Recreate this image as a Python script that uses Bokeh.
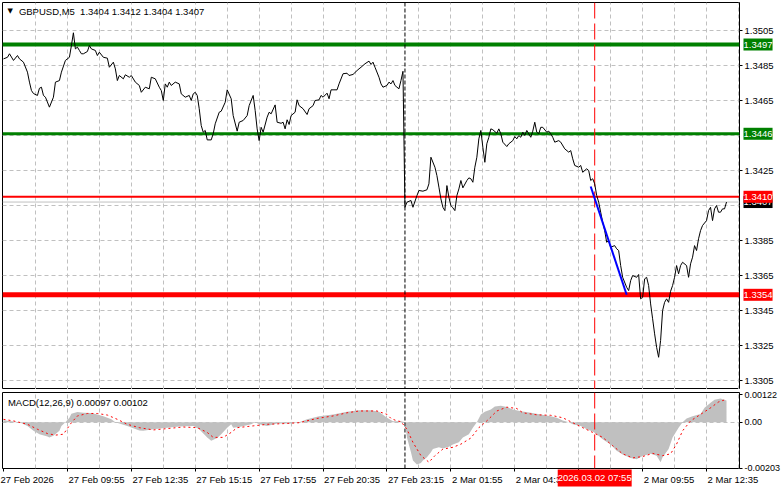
from bokeh.plotting import figure
from bokeh.models import (Range1d, FixedTicker, Label, Span, Grid, PrintfTickFormatter,
                          CustomJSTickFormatter)
from bokeh.layouts import column
from bokeh.embed import file_html
from bokeh.resources import INLINE

# ---------------- data ----------------
# M5 bar index (0 = 27 Feb 07:15) and close price
bar_idx = [0, 2, 3, 5, 7, 8, 10, 12, 13, 14, 15, 17, 18, 19, 20, 21, 23, 25, 26, 28, 29, 31, 33, 34, 35,
           36, 37, 38, 39, 40, 42, 43, 44, 46, 47, 48, 50, 52, 53, 55, 56, 57, 58, 60, 61, 63, 64, 66,
           68, 69, 71, 73, 74, 76, 78, 79, 80, 81, 82, 83, 84, 86, 88, 89, 91, 93, 94, 95, 96, 97, 98,
           99, 100, 101, 102, 104, 105, 106, 108, 109, 111, 112, 114, 115, 117, 118, 120, 122, 123, 125,
           126, 127, 128, 129, 130, 132, 133, 134, 136, 137, 139, 140, 141, 142, 143, 144, 146, 147, 148,
           150, 152, 153, 155, 156, 158, 159, 160, 162, 163, 164, 165, 167, 168, 170, 172, 173, 175, 177,
           178, 179, 181, 183, 184, 185, 186, 188, 189, 190, 192, 193, 194, 195, 196, 197, 198, 199, 200,
           201, 202, 204, 205, 207, 208, 210, 212, 213, 214, 216, 217, 218, 219, 220, 221, 222, 223, 224,
           225, 226, 227, 228, 229, 230, 232, 233, 234, 235, 236, 237, 238, 239, 240, 241, 242, 243, 244,
           245, 247, 248, 249, 250, 252, 253, 255, 256, 257, 258, 259, 260, 261, 262, 264, 265, 266, 267,
           268, 269, 270, 272, 273, 274, 275, 276, 278, 279, 281, 283, 284, 285, 286, 288, 289, 290, 292,
           293, 294, 295, 296, 297, 298, 299, 300, 301, 302, 303, 304, 306, 307, 308, 309, 310, 312, 313,
           314, 315, 317, 318, 319, 320, 321, 322, 323, 324, 325, 326, 327, 328, 329, 330, 331, 332, 333,
           334, 335, 336, 337, 338, 339, 340, 342, 343, 344, 345, 346, 347, 348, 349, 350, 352, 353, 354,
           355, 356, 357, 358, 359, 360, 361, 362]
close = [1.34888, 1.34897, 1.34917, 1.34879, 1.34907, 1.34888, 1.34869, 1.34812, 1.34755, 1.34707,
         1.34690, 1.34679, 1.34720, 1.34726, 1.34679, 1.34669, 1.34612, 1.34669, 1.34755, 1.34764,
         1.34812, 1.34879, 1.34897, 1.34964, 1.35037, 1.34945, 1.34955, 1.34936, 1.34917, 1.34917,
         1.34930, 1.34964, 1.34945, 1.34936, 1.34907, 1.34926, 1.34897, 1.34892, 1.34840, 1.34869,
         1.34831, 1.34764, 1.34793, 1.34774, 1.34797, 1.34783, 1.34793, 1.34755, 1.34736, 1.34697,
         1.34726, 1.34717, 1.34783, 1.34774, 1.34726, 1.34707, 1.34650, 1.34745, 1.34726, 1.34755,
         1.34736, 1.34755, 1.34745, 1.34688, 1.34669, 1.34679, 1.34650, 1.34688, 1.34697, 1.34679,
         1.34603, 1.34507, 1.34469, 1.34479, 1.34425, 1.34425, 1.34460, 1.34517, 1.34583, 1.34589,
         1.34640, 1.34711, 1.34660, 1.34564, 1.34475, 1.34526, 1.34536, 1.34564, 1.34621, 1.34679,
         1.34593, 1.34488, 1.34421, 1.34497, 1.34469, 1.34555, 1.34583, 1.34574, 1.34625, 1.34526,
         1.34520, 1.34526, 1.34488, 1.34540, 1.34513, 1.34564, 1.34583, 1.34654, 1.34621, 1.34603,
         1.34570, 1.34603, 1.34621, 1.34650, 1.34654, 1.34679, 1.34669, 1.34692, 1.34660, 1.34711,
         1.34711, 1.34711, 1.34745, 1.34803, 1.34806, 1.34793, 1.34799, 1.34821, 1.34831, 1.34840,
         1.34860, 1.34875, 1.34856, 1.34869, 1.34840, 1.34783, 1.34745, 1.34726, 1.34736, 1.34755,
         1.34745, 1.34764, 1.34736, 1.34726, 1.34717, 1.34764, 1.34817, 1.34040, 1.34069, 1.34079,
         1.34040, 1.34107, 1.34136, 1.34132, 1.34140, 1.34174, 1.34326, 1.34269, 1.34221, 1.34155,
         1.34088, 1.34040, 1.34021, 1.34164, 1.34097, 1.34050, 1.34037, 1.34021, 1.34107, 1.34145,
         1.34193, 1.34151, 1.34193, 1.34208, 1.34203, 1.34183, 1.34269, 1.34326, 1.34431, 1.34479,
         1.34383, 1.34297, 1.34403, 1.34440, 1.34488, 1.34483, 1.34463, 1.34488, 1.34460, 1.34412,
         1.34387, 1.34403, 1.34421, 1.34444, 1.34431, 1.34450, 1.34440, 1.34469, 1.34450, 1.34479,
         1.34440, 1.34475, 1.34526, 1.34469, 1.34460, 1.34497, 1.34497, 1.34469, 1.34475, 1.34460,
         1.34440, 1.34412, 1.34421, 1.34412, 1.34374, 1.34355, 1.34364, 1.34317, 1.34279, 1.34269,
         1.34279, 1.34240, 1.34260, 1.34250, 1.34193, 1.34203, 1.34174, 1.34107, 1.34069, 1.34012,
         1.33955, 1.33907, 1.33840, 1.33850, 1.33812, 1.33821, 1.33803, 1.33793, 1.33707, 1.33640,
         1.33583, 1.33564, 1.33621, 1.33650, 1.33640, 1.33656, 1.33517, 1.33526, 1.33631, 1.33640,
         1.33593, 1.33488, 1.33403, 1.33317, 1.33240, 1.33183, 1.33279, 1.33450, 1.33497, 1.33517,
         1.33497, 1.33560, 1.33593, 1.33640, 1.33707, 1.33660, 1.33707, 1.33726, 1.33707, 1.33640,
         1.33717, 1.33755, 1.33821, 1.33793, 1.33860, 1.33907, 1.33936, 1.33964, 1.34021, 1.34040,
         1.33964, 1.34031, 1.34050, 1.34012, 1.34012, 1.34031, 1.34031, 1.34070]

# MACD(12,26,9) histogram (main line) and signal line
hist_idx = [0, 4, 8, 12, 15, 18, 22, 23, 25, 28, 29, 31, 33, 34, 37, 40, 44, 47, 50, 54, 56, 62, 68, 70,
            75, 82, 88, 95, 98, 102, 104, 107, 109, 112, 114, 115, 118, 124, 126, 128, 132, 137, 144, 148,
            152, 158, 165, 172, 178, 184, 188, 192, 195, 199, 201, 202, 204, 205, 207, 209, 210, 212, 214,
            215, 218, 220, 223, 225, 228, 230, 233, 235, 237, 239, 241, 244, 246, 249, 252, 255, 259, 264,
            269, 274, 277, 280, 283, 285, 289, 292, 295, 297, 300, 304, 307, 310, 314, 317, 320, 324, 327,
            329, 330, 333, 335, 338, 340, 342, 345, 349, 351, 354, 356, 359, 362]
hist_val = [0.00009, 0.00005, 0, -0.00016, -0.00038, -0.00053, -0.00063, -0.00067, -0.0006, -0.00038,
            -0.00016, 0, 0.0002, 0.00038, 0.00046, 0.00042, 0.00041, 0.00035, 0.00027, 0.00013,
            0, -0.00016, -0.00036, -0.00038, -0.00031, -0.00024, -0.00019, -0.00016, -0.00031, -0.00067,
            -0.00082, -0.0007, -0.00053, -0.00024, -0.00009, -0.00024, -0.00021, -0.00009, 0, -0.00009,
            -0.00016, -0.00006, -0.00006, 0, 0.00013, 0.00027, 0.00035, 0.00047, 0.00053, 0.00053,
            0.00047, 0.0002, 0.00005, 0.00005, 0, -0.00067, -0.00133, -0.0017, -0.00187, -0.00181,
            -0.0017, -0.00155, -0.00133, -0.00119, -0.00111, -0.00116, -0.00109, -0.00099, -0.00089, -0.00067,
            -0.00053, -0.00024, 0, 0.00035, 0.00047, 0.00057, 0.0007, 0.00073, 0.00068, 0.00057,
            0.00049, 0.00042, 0.00035, 0.00027, 0.0002, 0.00008, 0, -0.00009, -0.00016, -0.00031,
            -0.00041, -0.00053, -0.00075, -0.00099, -0.00126, -0.00143, -0.00158, -0.00164, -0.0015, -0.0014,
            -0.00148, -0.00177, -0.00155, -0.00119, -0.00067, -0.00024, 0, 0.00017, 0.00027, 0.00037,
            0.00064, 0.00086, 0.001, 0.00105, 0.00097]
sig_idx = [0, 5, 12, 17, 22, 26, 30, 34, 37, 42, 47, 52, 57, 62, 68, 75, 82, 90, 97, 102, 105, 110, 114,
           117, 125, 132, 140, 148, 157, 165, 172, 178, 187, 192, 194, 197, 199, 202, 205, 209, 213, 216,
           220, 225, 229, 234, 238, 242, 247, 252, 257, 260, 267, 274, 280, 285, 290, 295, 300, 305, 310,
           315, 320, 325, 330, 334, 337, 340, 344, 349, 354, 358, 362]
sig_val = [0.00013, 0.00006, -0.00009, -0.00031, -0.0005, -0.00057, -0.00053, -0.00002, 0.00028, 0.00039,
           0.00039, 0.00032, 0.00013, -0.00009, -0.00024, -0.00034, -0.00028, -0.00021, -0.00024, -0.00045,
           -0.00067, -0.00067, -0.00045, -0.00024, -0.00016, -0.00009, -0.00006, -0.00002, 0.00017, 0.00028,
           0.00042, 0.0005, 0.0005, 0.00035, 0.00017, 0.00006, 0.00003, -0.00031, -0.00089, -0.00148,
           -0.00177, -0.00148, -0.00119, -0.00111, -0.00097, -0.0007, -0.00024, 0.00006, 0.0005, 0.00067,
           0.00061, 0.00042, 0.00033, 0.00031, 0.0002, -0.00002, -0.00024, -0.00045, -0.00067, -0.00104,
           -0.0014, -0.00158, -0.00152, -0.00138, -0.00148, -0.0014, -0.00097, -0.00038, 0.00006, 0.00035,
           0.00064, 0.0009, 0.00102]

# horizontal levels
level_prices = [1.3497, 1.3446, 1.3410, 1.3354]
level_colors = ["#008000", "#008000", "#FF0000", "#FF0000"]
level_widths = [4, 3, 2, 5]
bid_price = 1.3407

# trend line
trend_idx = [294, 312]
trend_price = [1.34159, 1.3354]

# vertical markers
day_sep_idx = 201
cursor_idx = 296
cursor_label = "2026.03.02 07:55"

# axes
price_ticks = [1.3305, 1.3325, 1.3345, 1.3365, 1.3385, 1.3425, 1.3465, 1.3485, 1.3505]
price_grid = [1.3305, 1.3325, 1.3345, 1.3365, 1.3385, 1.3405, 1.3425, 1.3445, 1.3465, 1.3485, 1.3505]
macd_ticks = [-0.00203, 0.0, 0.00122]
time_ticks = [0, 32, 64, 96, 128, 160, 192, 224, 256, 288, 320, 352]
time_labels = ["27 Feb 2026", "27 Feb 09:55", "27 Feb 12:35", "27 Feb 15:15", "27 Feb 17:55",
               "27 Feb 20:35", "27 Feb 23:15", "2 Mar 01:55", "2 Mar 04:35", "2 Mar 07:15",
               "2 Mar 09:55", "2 Mar 12:35"]
vgrid_ticks = list(range(16, 369, 16))

title_text = "GBPUSD,M5\u00a0 1.3404 1.3412 1.3404 1.3407"
macd_text = "MACD(12,26,9) 0.00097 0.00102"

# ---------------- styling ----------------
FONT = "Liberation Sans"
FS = "9.5px"
GRID = "#C0C0C0"
FW = 737

xr = Range1d(-0.5, 368.5)

# MT places each time label to the right of its tick: pad the centred label with
# leading figure spaces so that its visible text starts at the tick.  The first
# label is pushed inside the canvas by Bokeh anyway, so it needs no padding.
W = {" ": 0.278, ":": 0.278, "F": 0.611, "M": 0.833, "a": 0.556, "b": 0.556, "e": 0.556, "r": 0.333}


def left_pad(s, first=False):
    if first:
        return s
    w = sum(W.get(c, 0.556) for c in s)
    return "\u2007" * int(round(w / 0.556)) + s


def style(fig):
    fig.outline_line_color = "black"
    fig.outline_line_width = 1
    fig.background_fill_color = "white"
    fig.border_fill_color = "white"
    fig.xgrid.visible = False
    fig.ygrid.visible = False
    fig.add_layout(Grid(dimension=0, ticker=FixedTicker(ticks=vgrid_ticks),
                        grid_line_color=GRID, grid_line_dash="4 3", grid_line_width=1))


def style_axis(ax, fs=FS):
    ax.axis_line_color = None
    ax.major_tick_out = 3
    ax.major_tick_in = 0
    ax.minor_tick_out = 0
    ax.minor_tick_in = 0
    ax.major_tick_line_color = "black"
    ax.major_label_standoff = 2
    ax.major_label_text_font = FONT
    ax.major_label_text_font_size = fs
    ax.major_label_text_color = "black"


# ---------------- main price panel ----------------
main = figure(frame_width=FW, frame_height=387, x_range=xr, y_range=Range1d(1.32999, 1.3521),
              x_axis_location=None, y_axis_location="right", output_backend="svg",
              toolbar_location=None, min_border_left=2, min_border_top=2,
              min_border_bottom=0, min_border_right=0)
style(main)
main.add_layout(Grid(dimension=1, ticker=FixedTicker(ticks=price_grid),
                     grid_line_color=GRID, grid_line_dash="4 3", grid_line_width=1))
yax = main.yaxis[0]
yax.ticker = FixedTicker(ticks=price_ticks)
yax.formatter = PrintfTickFormatter(format="%.4f")
style_axis(yax)

main.add_layout(Span(location=bid_price, dimension="width", line_color="#C0C0C0",
                     line_width=1, level="underlay"))
for pr, col, w in zip(level_prices, level_colors, level_widths):
    main.add_layout(Span(location=pr, dimension="width", line_color=col, line_width=w,
                         level="underlay"))
main.add_layout(Span(location=day_sep_idx, dimension="height", line_color="black",
                     line_dash="4 2", line_width=1, level="underlay"))
main.add_layout(Span(location=cursor_idx, dimension="height", line_color="#FF0000",
                     line_dash="16 5", line_width=1, level="underlay"))

main.line(bar_idx, close, line_color="black", line_width=1)
main.line(trend_idx, trend_price, line_color="#0000FF", line_width=2)

# right-hand price tags (placed in the right side panel so they are not clipped to the frame)
main.add_layout(Label(x=370.5, y=bid_price, text=f"{bid_price:.4f}", text_font=FONT,
                      text_font_size=FS, text_color="white", background_fill_color="black",
                      text_align="left", text_baseline="middle", padding=(0, 3)), "right")
for pr, col in zip(level_prices, level_colors):
    main.add_layout(Label(x=370.5, y=pr, text=f"{pr:.4f}", text_font=FONT, text_font_size=FS,
                          text_color="white", background_fill_color=col, text_align="left",
                          text_baseline="middle", padding=(0, 3)), "right")

main.add_layout(Label(x=3.3, y=1.35159, text="\u25bc", text_font="DejaVu Sans", text_font_size="7px",
                      text_color="black", text_align="center", text_baseline="middle"))
main.add_layout(Label(x=7.7, y=1.35159, text=title_text, text_font=FONT, text_font_size=FS,
                      text_color="black", text_align="left", text_baseline="middle"))

# ---------------- MACD panel ----------------
macd = figure(frame_width=FW, frame_height=76, x_range=xr, y_range=Range1d(-0.00205, 0.00132),
              x_axis_location="below", y_axis_location="right", output_backend="svg",
              toolbar_location=None, min_border_left=2, min_border_top=3,
              min_border_bottom=0, min_border_right=0)
style(macd)
macd.add_layout(Grid(dimension=1, ticker=FixedTicker(ticks=[0.0]),
                     grid_line_color=GRID, grid_line_dash="4 3", grid_line_width=1))
macd.varea(x=hist_idx, y1=[0] * len(hist_idx), y2=hist_val, fill_color="#C0C0C0")
macd.line(sig_idx, sig_val, line_color="#FF0000", line_width=1, line_dash="2 3")

macd.add_layout(Span(location=day_sep_idx, dimension="height", line_color="black",
                     line_dash="4 2", line_width=1))
macd.add_layout(Span(location=cursor_idx, dimension="height", line_color="#FF0000",
                     line_dash="16 5", line_width=1))

may = macd.yaxis[0]
may.ticker = FixedTicker(ticks=macd_ticks)
may.formatter = CustomJSTickFormatter(code="return tick == 0 ? '0.00' : tick.toFixed(5);")
style_axis(may, "9px")

xax = macd.xaxis[0]
xax.ticker = FixedTicker(ticks=time_ticks)
xax.major_label_overrides = {t: left_pad(s, k == 0)
                             for k, (t, s) in enumerate(zip(time_ticks, time_labels))}
style_axis(xax)

macd.add_layout(Label(x=2.2, y=0.00087, text=macd_text, text_font=FONT, text_font_size=FS,
                      text_color="black", text_align="left", text_baseline="middle"))
macd.add_layout(Label(x=cursor_idx, y=-0.00247, text=cursor_label, text_font=FONT,
                      text_font_size=FS, text_color="white", background_fill_color="#FF0000",
                      text_align="center", text_baseline="middle", padding=(0, 3)), "below")

layout = column(main, macd)
open("out.html", "w").write(file_html(layout, INLINE))
